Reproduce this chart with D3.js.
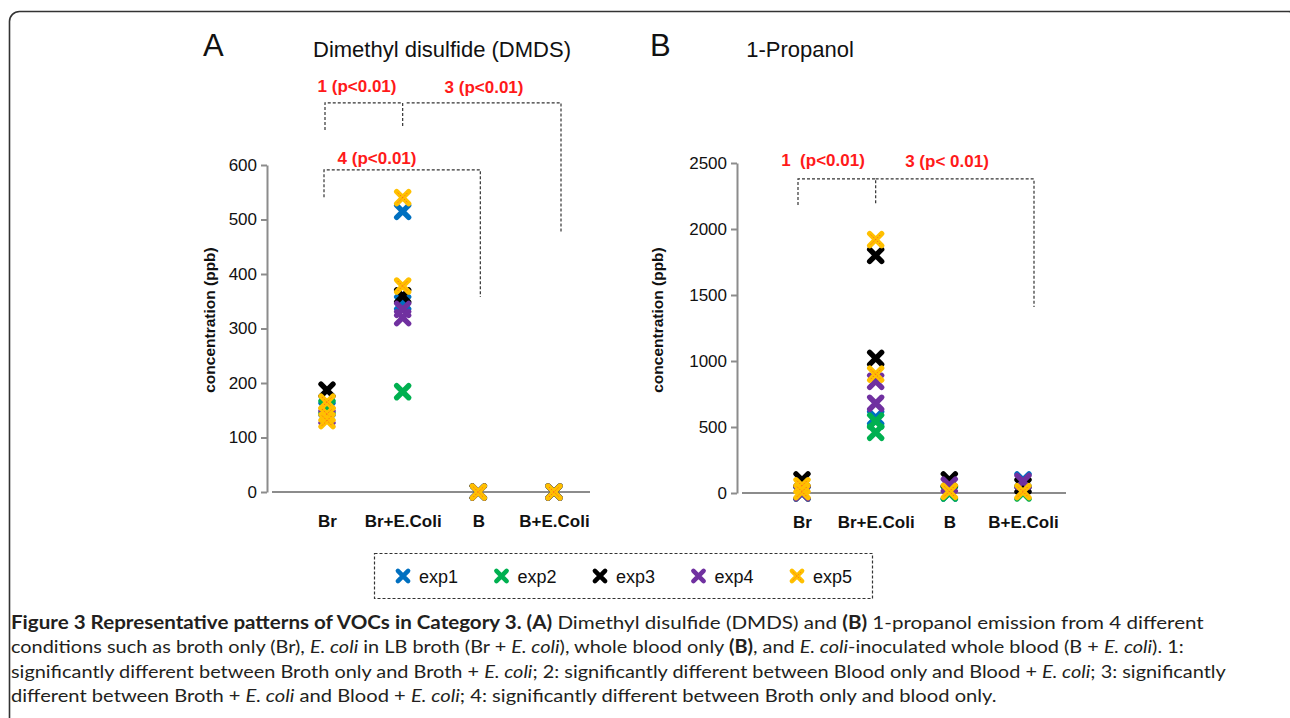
<!DOCTYPE html>
<html>
<head>
<meta charset="utf-8">
<script src="https://cdn.jsdelivr.net/npm/d3@7"></script>
<style>
  body { margin: 0; background: #fff; }
  svg { display: block; }
  .tick text { font-family: "Liberation Sans", Arial, sans-serif; }
</style>
</head>
<body>
<div id="chart"></div>
<script>
// categories and series
const categories = ["Br", "Br+E.Coli", "B", "B+E.Coli"];
const seriesNames = ["exp1", "exp2", "exp3", "exp4", "exp5"];
const seriesColors = ["#0070c0", "#00b050", "#000000", "#7030a0", "#ffc000"];

// DMDS (ppb), one list of replicate values per category
const dmdsExp1 = [[152], [515, 347], [0], [0]];
const dmdsExp2 = [[156], [184], [0], [0]];
const dmdsExp3 = [[187], [360], [0], [0]];
const dmdsExp4 = [[138], [335, 320], [0], [0]];
const dmdsExp5 = [[165, 143, 131], [540, 378], [0], [0]];

// 1-Propanol (ppb)
const propExp1 = [[0], [570], [0], [100]];
const propExp2 = [[0], [545, 460], [0], [0]];
const propExp3 = [[100], [1800, 1020], [100], [55]];
const propExp4 = [[0], [845, 680], [60], [88]];
const propExp5 = [[55, 10], [1920, 900], [12], [10]];

const dmdsTicks = [0, 100, 200, 300, 400, 500, 600];
const propTicks = [0, 500, 1000, 1500, 2000, 2500];

const svgWidth = 1290;
const svgHeight = 718;
const font = "'Liberation Sans', Arial, Helvetica, sans-serif";

const svg = d3.select("#chart")
  .append("svg")
  .attr("width", svgWidth)
  .attr("height", svgHeight);

// figure frame
svg.append("rect")
  .attr("x", 9.5).attr("y", 11.5)
  .attr("width", 1289).attr("height", 760)
  .attr("rx", 10)
  .attr("fill", "none")
  .attr("stroke", "#333")
  .attr("stroke-width", 1.6);

// x-shaped marker
const xPath = "M-6,-6L6,6M-6,6L6,-6";

function drawMarker(g, color, isExp5) {
  g.append("path")
    .attr("d", xPath)
    .attr("fill", "none")
    .attr("stroke", color)
    .attr("stroke-width", 5.4)
    .attr("stroke-linecap", "round");
  if (isExp5) {
    g.append("path")
      .attr("d", "M-5,-5L5,5M-5,5L5,-5")
      .attr("fill", "none")
      .attr("stroke", "#ff5a1f")
      .attr("stroke-width", 0.8)
      .attr("stroke-dasharray", "1.5,1.5");
  }
}

function drawPanel(cfg) {
  const g = svg.append("g");

  const x = d3.scalePoint().domain(categories).range(cfg.xRange);
  const y = d3.scaleLinear().domain([0, cfg.yMax]).range(cfg.yRange);

  // y axis
  const yAxis = g.append("g")
    .attr("transform", `translate(${cfg.axisX},0)`)
    .call(d3.axisLeft(y).tickValues(cfg.ticks).tickFormat(d3.format("d"))
      .tickSize(6).tickSizeOuter(0).tickPadding(4));
  yAxis.select(".domain").attr("stroke", "#8c8c8c").attr("stroke-width", 2);
  yAxis.selectAll(".tick line").attr("stroke", "#8c8c8c").attr("stroke-width", 2);
  yAxis.selectAll(".tick text")
    .attr("fill", "#111")
    .style("font-size", "17px")
    .style("font-family", font);

  // x axis baseline
  g.append("line")
    .attr("x1", cfg.axisX + 5).attr("x2", cfg.xEnd)
    .attr("y1", y(0)).attr("y2", y(0))
    .attr("stroke", "#8c8c8c").attr("stroke-width", 2);

  // x axis labels
  const xAxis = g.append("g")
    .attr("transform", `translate(0,${y(0)})`)
    .call(d3.axisBottom(x).tickSize(0).tickPadding(23));
  xAxis.select(".domain").remove();
  xAxis.selectAll(".tick text")
    .attr("fill", "#111")
    .style("font-size", "17px")
    .style("font-weight", "bold")
    .style("font-family", font);

  // y label
  g.append("text")
    .attr("transform", `translate(${cfg.labelX},${cfg.labelY}) rotate(-90)`)
    .attr("text-anchor", "middle")
    .style("font-family", font)
    .style("font-size", "15.5px")
    .style("font-weight", "bold")
    .attr("fill", "#111")
    .text("concentration (ppb)");

  // panel letter + title
  g.append("text")
    .attr("x", cfg.letterX).attr("y", 56)
    .style("font-family", font).style("font-size", "31px")
    .attr("fill", "#111")
    .text(cfg.letter);
  g.append("text")
    .attr("x", cfg.titleX).attr("y", 57)
    .attr("text-anchor", "middle")
    .style("font-family", font).style("font-size", "22px")
    .attr("fill", "#111")
    .text(cfg.title);

  // significance brackets
  cfg.brackets.forEach(b => {
    const x1 = x(b.from) + b.dx1, x2 = x(b.to) + b.dx2;
    const yTop = y(b.level);
    const pathStr = (b.leftLeg !== null ? `M${x1},${y(b.leftLeg)}L${x1},${yTop}` : `M${x1},${yTop}`) +
      `L${x2},${yTop}L${x2},${y(b.rightLeg)}`;
    g.append("path")
      .attr("d", pathStr)
      .attr("fill", "none")
      .attr("stroke", "#333")
      .attr("stroke-width", 1.2)
      .attr("stroke-dasharray", "3,2");
  });
  cfg.sigLabels.forEach(s => {
    g.append("text")
      .attr("x", s.x).attr("y", s.y)
      .attr("text-anchor", "middle")
      .style("font-family", font).style("font-size", "17px")
      .style("font-weight", "bold")
      .style("white-space", "pre")
      .attr("fill", "#ff1a1a")
      .text(s.text);
  });

  // points
  cfg.series.forEach((vals, si) => {
    const pts = [];
    vals.forEach((list, ci) => list.forEach(v => pts.push({ cat: categories[ci], v: v })));
    const sg = g.append("g");
    sg.selectAll("g.pt")
      .data(pts)
      .enter()
      .append("g")
      .attr("class", "pt")
      .attr("transform", d => `translate(${x(d.cat)},${y(d.v)})`)
      .each(function () { drawMarker(d3.select(this), seriesColors[si], si === 4); });
  });
}

drawPanel({
  letter: "A", letterX: 203, title: "Dimethyl disulfide (DMDS)", titleX: 442,
  xRange: [327, 554], xEnd: 590, axisX: 267, yMax: 600, yRange: [492, 165],
  ticks: dmdsTicks, labelX: 215, labelY: 320,
  series: [dmdsExp1, dmdsExp2, dmdsExp3, dmdsExp4, dmdsExp5],
  brackets: [
    { from: "Br", to: "Br+E.Coli", dx1: -2, dx2: 0, level: 714, leftLeg: 664, rightLeg: 668 },
    { from: "Br+E.Coli", to: "B+E.Coli", dx1: 4, dx2: 7, level: 714, leftLeg: null, rightLeg: 477 },
    { from: "Br", to: "B", dx1: -3, dx2: 2, level: 591, leftLeg: 541, rightLeg: 358 }
  ],
  sigLabels: [
    { x: 357, y: 92, text: "1 (p<0.01)" },
    { x: 484, y: 93, text: "3 (p<0.01)" },
    { x: 377, y: 164, text: "4 (p<0.01)" }
  ]
});

drawPanel({
  letter: "B", letterX: 650, title: "1-Propanol", titleX: 800,
  xRange: [802, 1023], xEnd: 1066, axisX: 737, yMax: 2500, yRange: [493, 163],
  ticks: propTicks, labelX: 663, labelY: 320,
  series: [propExp1, propExp2, propExp3, propExp4, propExp5],
  brackets: [
    { from: "Br", to: "Br+E.Coli", dx1: -4, dx2: 0, level: 2379, leftLeg: 2182, rightLeg: 2189 },
    { from: "Br+E.Coli", to: "B+E.Coli", dx1: 0, dx2: 11, level: 2379, leftLeg: null, rightLeg: 1409 }
  ],
  sigLabels: [
    { x: 823, y: 166, text: "1  (p<0.01)" },
    { x: 947, y: 167, text: "3 (p< 0.01)" }
  ]
});

// legend
const legend = svg.append("g");
legend.append("rect")
  .attr("x", 374.5).attr("y", 553.5)
  .attr("width", 498).attr("height", 45)
  .attr("fill", "none")
  .attr("stroke", "#333")
  .attr("stroke-width", 1.2)
  .attr("stroke-dasharray", "3,2");
const legendX = d3.scalePoint().domain(seriesNames).range([403, 797]);
seriesNames.forEach((name, i) => {
  const item = legend.append("g").attr("transform", `translate(${legendX(name)},576)`);
  const m = item.append("g").attr("transform", "scale(0.85)");
  drawMarker(m, seriesColors[i], i === 4);
  item.append("text")
    .attr("x", 16).attr("y", 6.5)
    .style("font-family", font).style("font-size", "18px")
    .attr("fill", "#111")
    .text(name);
});

// caption
const captionLines = [
  [["b", "Figure 3 Representative patterns of VOCs in Category 3. (A)"], ["n", " Dimethyl disulfide (DMDS) and "], ["b", "(B)"], ["n", " 1-propanol emission from 4 different"]],
  [["n", "conditions such as broth only (Br), "], ["i", "E. coli"], ["n", " in LB broth (Br + "], ["i", "E. coli"], ["n", "), whole blood only "], ["b", "(B)"], ["n", ", and "], ["i", "E. coli"], ["n", "-inoculated whole blood (B + "], ["i", "E. coli"], ["n", "). 1:"]],
  [["n", "significantly different between Broth only and Broth + "], ["i", "E. coli"], ["n", "; 2: significantly different between Blood only and Blood + "], ["i", "E. coli"], ["n", "; 3: significantly"]],
  [["n", "different between Broth + "], ["i", "E. coli"], ["n", " and Blood + "], ["i", "E. coli"], ["n", "; 4: significantly different between Broth only and blood only."]]
];
const captionX = 11;
const captionEnds = [1204, 1184, 1227, 997];

captionLines.forEach((parts, li) => {
  const t = svg.append("text")
    .attr("x", captionX).attr("y", 629 + li * 24.5)
    .style("font-family", "Lato, 'Open Sans', sans-serif")
    .style("font-size", "18px")
    .style("white-space", "pre")
    .attr("fill", "#231f20");
  parts.forEach(p => {
    const ts = t.append("tspan").text(p[1]);
    if (p[0] === "b") ts.style("font-weight", "bold");
    if (p[0] === "i") ts.style("font-style", "italic");
  });
  const sx = (captionEnds[li] - captionX) / t.node().getComputedTextLength();
  t.attr("transform", `translate(${captionX},0) scale(${sx},1) translate(${-captionX},0)`);
});
</script>
</body>
</html>
